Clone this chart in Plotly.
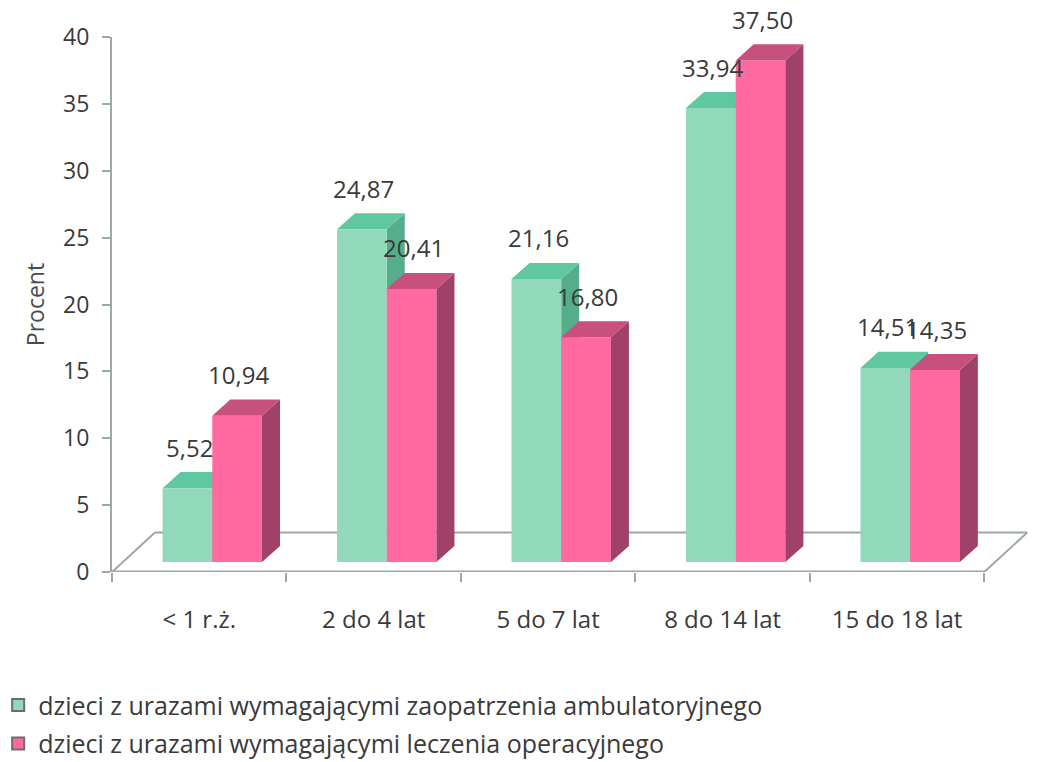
import plotly.graph_objects as go

categories = ["< 1 r.ż.", "2 do 4 lat", "5 do 7 lat", "8 do 14 lat", "15 do 18 lat"]
ambulatory = [5.52, 24.87, 21.16, 33.94, 14.51]
operative = [10.94, 20.41, 16.80, 37.50, 14.35]
series_names = [
    "dzieci z urazami wymagającymi zaopatrzenia ambulatoryjnego",
    "dzieci z urazami wymagającymi leczenia operacyjnego",
]
y_ticks = [0, 5, 10, 15, 20, 25, 30, 35, 40]

# style
FONT = "Open Sans, Noto Sans, sans-serif"
TXT = "#3a3a3a"
AX = "#9da6a8"
G_FRONT, G_TOP, G_SIDE = "#92d9bc", "#5fc8a0", "#56ad8b"
P_FRONT, P_TOP, P_SIDE = "#ff69a0", "#c8507d", "#a04169"
BW = 0.285          # bar front width (category units)
G_OFF, P_OFF = -0.21, 0.075
DX, DY = 0.103, 1.2  # 3D depth offsets
SHIFT = 0.75         # bar baseline lift (y units)
LABEL_SHIFT_PX = 41

idx = list(range(len(categories)))


def faces(values, off):
    tx, ty, sx, sy = [], [], [], []
    for i, v in zip(idx, values):
        x0 = i + off
        x1 = x0 + BW
        tx += [x0, x1, x1 + DX, x0 + DX, x0, None]
        ty += [v, v, v + DY, v + DY, v, None]
        sx += [x1, x1 + DX, x1 + DX, x1, x1, None]
        sy += [0, DY, v + DY, v, 0, None]
    return tx, ty, sx, sy


fig = go.Figure()

# green 3D faces (below bars)
gtx, gty, gsx, gsy = faces(ambulatory, G_OFF)
fig.add_trace(go.Scatter(x=gsx, y=gsy, fill="toself", fillcolor=G_SIDE, mode="lines",
                         line=dict(width=0), yaxis="y2", showlegend=False, hoverinfo="skip"))
fig.add_trace(go.Scatter(x=gtx, y=gty, fill="toself", fillcolor=G_TOP, mode="lines",
                         line=dict(width=0), yaxis="y2", showlegend=False, hoverinfo="skip"))

# bar fronts
fig.add_trace(go.Bar(x=idx, y=ambulatory, offset=G_OFF, width=BW, name=series_names[0],
                     showlegend=False, marker=dict(color=G_FRONT, line=dict(width=0)), yaxis="y3"))
fig.add_trace(go.Bar(x=idx, y=operative, offset=P_OFF, width=BW, name=series_names[1],
                     showlegend=False, marker=dict(color=P_FRONT, line=dict(width=0)), yaxis="y3"))

# pink 3D faces (above bars)
ptx, pty, psx, psy = faces(operative, P_OFF)
fig.add_trace(go.Scatter(x=psx, y=psy, fill="toself", fillcolor=P_SIDE, mode="lines",
                         line=dict(width=0), yaxis="y4", showlegend=False, hoverinfo="skip"))
fig.add_trace(go.Scatter(x=ptx, y=pty, fill="toself", fillcolor=P_TOP, mode="lines",
                         line=dict(width=0), yaxis="y4", showlegend=False, hoverinfo="skip"))

# legend entries (with bordered swatches)
for name, col, grp in ((series_names[0], G_FRONT, "a"), (series_names[1], P_FRONT, "b")):
    fig.add_trace(go.Bar(x=[None], y=[None], name=name, legendgroup=grp, yaxis="y3",
                         marker=dict(color=col, line=dict(width=1.5, color="#6c6c6c"))))

# data labels as annotations
fmt = lambda v: f"{v:.2f}".replace(".", ",")
annotations = []
for vals, off in ((ambulatory, G_OFF), (operative, P_OFF)):
    for i, v in zip(idx, vals):
        annotations.append(dict(
            x=i + off + BW / 2 + 0.01, y=v, xref="x", yref="y4", yshift=LABEL_SHIFT_PX,
            text=fmt(v), showarrow=False, xanchor="center", yanchor="middle",
            font=dict(family=FONT, size=24, color=TXT)))

XR = [-0.5, 4.762]
YR = [0, 40]
YR_S = [YR[0] - SHIFT, YR[1] - SHIFT]
FD_X, FD_Y = 0.246, 2.95

# floor outline
floor_line = dict(color=AX, width=2)
shapes = [
    dict(type="line", xref="x", yref="y", x0=-0.5, y0=0, x1=-0.5 + FD_X, y1=FD_Y, line=floor_line, layer="below"),
    dict(type="line", xref="x", yref="y", x0=-0.5 + FD_X, y0=FD_Y, x1=4.5 + FD_X, y1=FD_Y, line=floor_line, layer="below"),
    dict(type="line", xref="x", yref="y", x0=4.5, y0=0, x1=4.5 + FD_X, y1=FD_Y, line=floor_line, layer="below"),
    dict(type="line", xref="x", yref="y", x0=-0.5, y0=0, x1=4.5, y1=0, line=dict(color=AX, width=3), layer="below"),
]

hidden = dict(range=YR_S, overlaying="y", visible=False, fixedrange=True)

fig.update_layout(
    width=1038, height=754,
    margin=dict(l=104, r=16, t=29, b=190, autoexpand=False),
    paper_bgcolor="white", plot_bgcolor="white",
    barmode="overlay",
    font=dict(family=FONT, size=24, color=TXT),
    showlegend=True,
    legend=dict(x=-0.124, xanchor="left", y=-0.206, yanchor="top",
                font=dict(family=FONT, size=25, color=TXT),
                traceorder="grouped", itemsizing="constant", tracegroupgap=3,
                itemwidth=30),
    xaxis=dict(range=XR, showgrid=False, zeroline=False, showline=False,
               tickmode="array", tickvals=idx, ticktext=categories, ticks="",
               tickfont=dict(family=FONT, size=24, color=TXT), ticklabelstandoff=31,
               minor=dict(tickmode="array", tickvals=[-0.5, 0.5, 1.5, 2.5, 3.5, 4.5],
                          ticks="outside", ticklen=9, tickcolor=AX, tickwidth=2),
               fixedrange=True, automargin=False),
    yaxis=dict(range=YR, showgrid=False, zeroline=False, showline=True, linecolor=AX, linewidth=2,
               tickmode="array", tickvals=y_ticks, ticks="outside", ticklen=8, tickcolor=AX, tickwidth=2,
               tickfont=dict(family=FONT, size=23, color=TXT), ticklabelstandoff=8,
               title=dict(text="Procent", font=dict(family=FONT, size=23, color="#4a4a4a"), standoff=12),
               fixedrange=True, automargin=False),
    yaxis2=hidden, yaxis3=hidden, yaxis4=hidden,
    shapes=shapes,
    annotations=annotations,
)

fig.write_html("out.html")
